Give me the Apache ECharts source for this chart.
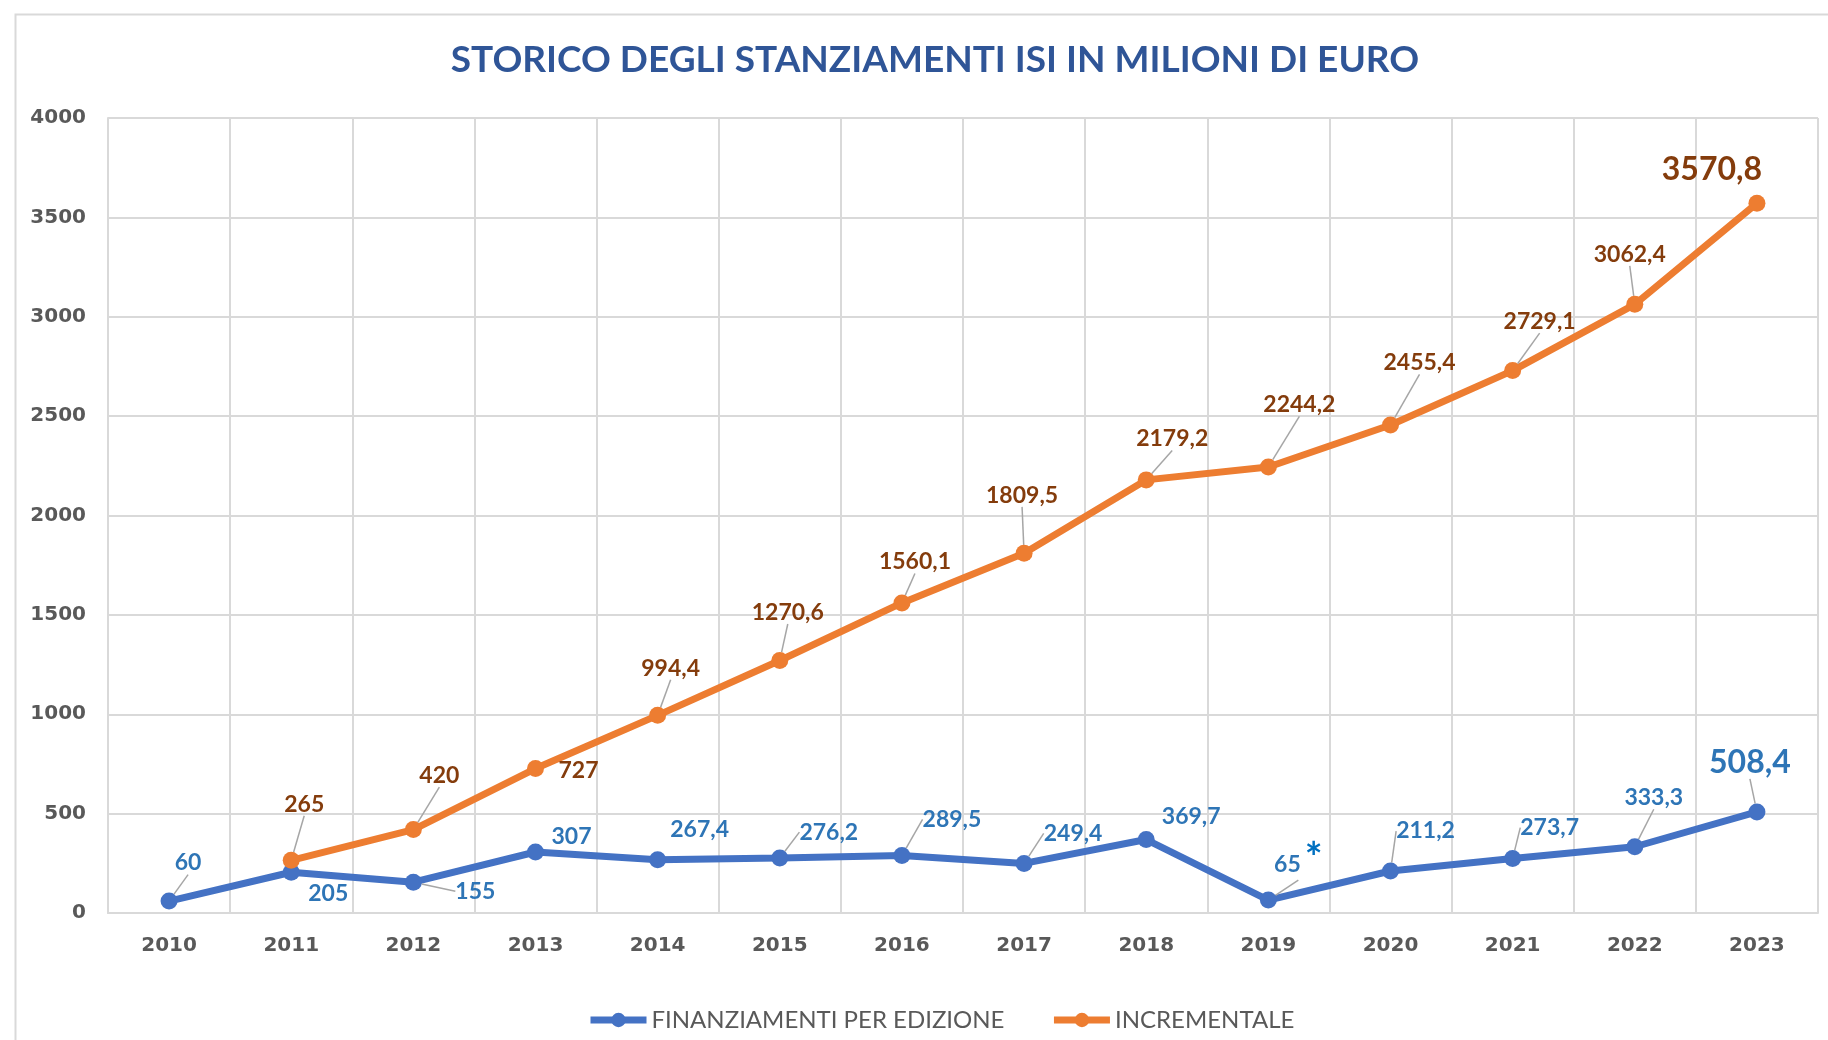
<!DOCTYPE html>
<html>
<head>
<meta charset="utf-8">
<script src="https://cdn.jsdelivr.net/npm/echarts@6/dist/echarts.min.js"></script>
<style>
  html, body { margin: 0; padding: 0; background: #fff; }
  #chart { width: 1828px; height: 1040px; }
</style>
</head>
<body>
<div id="chart"></div>
<script>
// anni
var years = ["2010", "2011", "2012", "2013", "2014", "2015", "2016", "2017", "2018", "2019", "2020", "2021", "2022", "2023"];
// finanziamenti per edizione (milioni di euro)
var perEdizione = [60, 205, 155, 307, 267.4, 276.2, 289.5, 249.4, 369.7, 65, 211.2, 273.7, 333.3, 508.4];
// incrementale (milioni di euro), 2010 senza valore
var incrementale = [null, 265, 420, 727, 994.4, 1270.6, 1560.1, 1809.5, 2179.2, 2244.2, 2455.4, 2729.1, 3062.4, 3570.8];
var yTicks = [0, 500, 1000, 1500, 2000, 2500, 3000, 3500, 4000];
var seriesNames = ["FINANZIAMENTI PER EDIZIONE", "INCREMENTALE"];

// spostamento delle etichette rispetto al punto [dx, dy, leader]
var blueLabelShift = [[19, -38, 1], [37, 21, 0], [62, 9, 1], [36, -15, 0], [42, -30, 0], [49, -26, 1], [50, -36, 1],
  [49, -30, 1], [45, -23, 0], [30, -36, 1], [35, -40, 1], [37, -31, 1], [19, -49, 1], [-7, -49, 1]];
var orangeLabelShift = [[0, 0, 0], [13, -56, 1], [26, -54, 1], [43, 2, 0], [13, -47, 1], [8, -48, 1], [13, -41, 1],
  [-2, -58, 1], [26, -41, 1], [31, -62, 1], [29, -62, 1], [27, -49, 1], [-5, -50, 1], [-45, -34, 0]];

function fmt(v) {
  return String(v).replace(".", ",");
}

function buildData(values, shifts) {
  return values.map(function (v, i) {
    if (v === null) return "-";
    var item = { value: v, labelLine: { show: shifts[i][2] === 1 } };
    if (i === values.length - 1) {
      item.label = { fontSize: 32 };
    }
    return item;
  });
}

var chart = echarts.init(document.getElementById("chart"), null, { renderer: "canvas" });

var labelFont = "Lato, 'Open Sans', sans-serif";
var axisFont = "'DejaVu Sans', sans-serif";

chart.setOption({
  animation: false,
  backgroundColor: "#ffffff",
  title: {
    text: "STORICO DEGLI STANZIAMENTI ISI IN MILIONI DI EURO",
    left: 930,
    textAlign: "center",
    top: 37,
    textStyle: {
      fontFamily: labelFont,
      fontSize: 37,
      fontWeight: "bold",
      color: "#2F5597"
    }
  },
  graphic: [{
    type: "rect",
    left: 13,
    top: 12,
    shape: { width: 1840, height: 1060 },
    style: { fill: "none", stroke: "#D9D9D9", lineWidth: 2 },
    silent: true,
    z: -10
  }],
  legend: {
    bottom: 3,
    left: 582,
    itemWidth: 56,
    itemHeight: 18,
    itemGap: 46,
    lineStyle: { width: 7 },
    textStyle: {
      fontFamily: labelFont,
      fontSize: 24,
      color: "#595959"
    },
    data: seriesNames
  },
  grid: {
    left: 108,
    right: 10,
    top: 118,
    bottom: 127
  },
  xAxis: {
    type: "category",
    data: years,
    boundaryGap: true,
    axisLine: { lineStyle: { color: "#D9D9D9", width: 2 } },
    axisTick: { show: false },
    axisLabel: {
      margin: 23,
      fontFamily: axisFont,
      fontWeight: "bold",
      fontSize: 20,
      color: "#595959"
    },
    splitLine: {
      show: true,
      interval: 0,
      lineStyle: { color: "#D9D9D9", width: 2 }
    }
  },
  yAxis: {
    type: "value",
    min: yTicks[0],
    max: yTicks[yTicks.length - 1],
    interval: yTicks[1] - yTicks[0],
    axisLine: { show: true, lineStyle: { color: "#D9D9D9", width: 2 } },
    axisTick: { show: false },
    axisLabel: {
      margin: 22,
      fontFamily: axisFont,
      fontWeight: "bold",
      fontSize: 20,
      color: "#595959",
      formatter: function (v) {
        return String(v);
      }
    },
    splitLine: { lineStyle: { color: "#D9D9D9", width: 2 } }
  },
  series: [
    {
      name: seriesNames[0],
      type: "line",
      data: buildData(perEdizione, blueLabelShift),
      color: "#4472C4",
      symbol: "circle",
      symbolSize: 17,
      lineStyle: { width: 7, color: "#4472C4" },
      itemStyle: { color: "#4472C4" },
      label: {
        show: true,
        position: "inside",
        fontFamily: labelFont,
        fontWeight: "bold",
        fontSize: 23,
        color: "#2E75B6",
        formatter: function (p) {
          if (p.dataIndex === 9) return fmt(p.value) + "{s|*}";
          return fmt(p.value);
        },
        rich: {
          s: {
            fontFamily: labelFont,
            fontWeight: "bold",
            fontSize: 42,
            color: "#0070C0",
            padding: [0, 0, 10, 4]
          }
        }
      },
      labelLine: {
        show: true,
        lineStyle: { color: "#A6A6A6", width: 1.5 }
      },
      labelLayout: function (p) {
        var s = blueLabelShift[p.dataIndex];
        return { dx: s[0], dy: s[1] };
      },
      emphasis: { disabled: true },
      z: 2
    },
    {
      name: seriesNames[1],
      type: "line",
      data: buildData(incrementale, orangeLabelShift),
      color: "#ED7D31",
      symbol: "circle",
      symbolSize: 17,
      lineStyle: { width: 7, color: "#ED7D31" },
      itemStyle: { color: "#ED7D31" },
      label: {
        show: true,
        position: "inside",
        fontFamily: labelFont,
        fontWeight: "bold",
        fontSize: 23,
        color: "#843C0C",
        formatter: function (p) {
          return fmt(p.value);
        }
      },
      labelLine: {
        show: true,
        lineStyle: { color: "#A6A6A6", width: 1.5 }
      },
      labelLayout: function (p) {
        var s = orangeLabelShift[p.dataIndex];
        return { dx: s[0], dy: s[1] };
      },
      emphasis: { disabled: true },
      z: 3
    }
  ]
});

window.addEventListener("resize", function () {
  chart.resize();
});
</script>
</body>
</html>
